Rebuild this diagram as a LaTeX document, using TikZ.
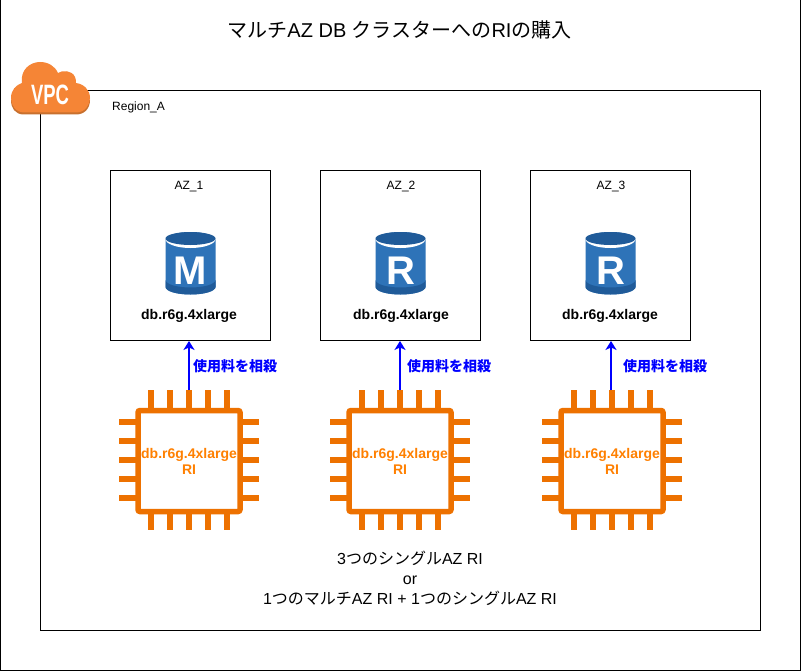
\documentclass[tikz,border=0pt]{standalone}
\usepackage{fontspec}
\setmainfont{Liberation Sans}
\newfontfamily\jp{Noto Sans CJK JP}
\usetikzlibrary{arrows.meta}
\definecolor{chiporange}{HTML}{ED7100}
\definecolor{ritext}{HTML}{FF8000}
\definecolor{cloudorange}{HTML}{F58536}
\definecolor{clouddark}{HTML}{C8702E}
\definecolor{dbblue}{HTML}{2E73B8}
\definecolor{dbdark}{HTML}{205B99}
\newcommand{\J}[1]{{\jp #1}}
\tikzset{
  frame/.style={draw=black,line width=1pt,fill=none},
  azbox/.style={draw=black,line width=0.9pt,minimum width=160pt,minimum height=170pt,inner sep=0pt},
  plain/.style={inner sep=0pt,font=\fontsize{12}{14}\selectfont,text=black},
  dblabel/.style={inner sep=0pt,font=\fontsize{14}{16}\selectfont\bfseries,text=black},
  uselabel/.style={inner sep=0pt,anchor=west,text=blue,font=\fontsize{14}{16}\selectfont\bfseries},
  chipbody/.style={draw=chiporange,line width=5.5pt,rounded corners=2pt,minimum width=102pt,minimum height=101pt,inner sep=0pt,align=center,text=ritext,font=\fontsize{14}{16}\selectfont\bfseries},
  pin/.style={draw=chiporange,line width=6pt},
  offset/.style={draw=blue,line width=2pt,-{Stealth[length=9pt,width=11pt,inset=2.5pt]}},
  chip/.pic={
    \foreach \d in {-38,-19,0,19,38}{
      \draw[pin] (\d,-70) -- (\d,-52);
      \draw[pin] (\d,52) -- (\d,70);
      \draw[pin] (-70,\d) -- (-53,\d);
      \draw[pin] (53,\d) -- (70,\d);
    }
  },
  dbicon/.pic={
    \fill[dbblue] (-25,8) -- (-25,55) arc[start angle=180,end angle=0,x radius=25,y radius=7.5] -- (25,8) arc[start angle=0,end angle=-180,x radius=25,y radius=8] -- cycle;
    \fill[dbdark] (-25,48) -- (-25,55) arc[start angle=180,end angle=0,x radius=25,y radius=7.5] -- (25,48) arc[start angle=0,end angle=180,x radius=25,y radius=7.5] -- cycle;
    \fill[white] (-25,7) arc[start angle=180,end angle=0,x radius=25,y radius=9] -- (25,6.5) -- (-25,6.5) -- cycle;
    \fill[dbdark] (0,6.5) ellipse[x radius=25,y radius=6.5];
  }
}
\begin{document}
\begin{tikzpicture}[x=1pt,y=-1pt]
\useasboundingbox (0,0) rectangle (802,671);
\fill[white] (0,0) rectangle (802,671);
\draw[frame] (0.5,-1) rectangle (800.5,670.5);
\node[inner sep=0pt,font=\fontsize{20}{23}\selectfont] (title) at (399.5,30) {\J{マルチ}AZ DB \J{クラスターへの}RI\J{の購入}};
\node[draw=black,line width=1pt,minimum width=720pt,minimum height=540pt,inner sep=0pt] (region) at (400.5,360.5) {};
% VPC cloud
\fill[clouddark] (24,114.5) .. controls (15,114.5) and (11,108) .. (11,100) -- (90,100) .. controls (90,108) and (85,114.5) .. (76,114.5) -- cycle;
\fill[cloudorange] (25,112.5) .. controls (15,112.5) and (11,105) .. (11,98) .. controls (11,90) and (16,85) .. (22,83) .. controls (20,70) and (30,62) .. (40,62) .. controls (48,62) and (55,66) .. (58,73) .. controls (62,70) and (72,70) .. (75,77) .. controls (76,79) and (76,81) .. (76,83) .. controls (84,84) and (90,90) .. (90,98) .. controls (90,105) and (85,112.5) .. (76,112.5) -- cycle;
\node[inner sep=0pt,text=white,xscale=0.66,font=\fontsize{28}{28}\selectfont\bfseries] (vpc) at (50,95) {VPC};
\node[plain,anchor=west] (regionlabel) at (112,107) {Region\_A};
% AZ boxes
\node[azbox] (az1) at (190.5,255.5) {};
\node[azbox] (az2) at (400.5,255.5) {};
\node[azbox] (az3) at (610.5,255.5) {};
\node[plain] (az1t) at (189,187) {AZ\_1};
\node[plain] (az2t) at (401,187) {AZ\_2};
\node[plain] (az3t) at (611,187) {AZ\_3};
% DB icons
\pic at (190.5,232) {dbicon};
\pic at (400.5,232) {dbicon};
\pic at (610.5,232) {dbicon};
\node[inner sep=0pt,text=white,font=\fontsize{40}{40}\selectfont\bfseries] (m1) at (190.5,271) {M};
\node[inner sep=0pt,text=white,font=\fontsize{40}{40}\selectfont\bfseries] (r2) at (401,271) {R};
\node[inner sep=0pt,text=white,font=\fontsize{40}{40}\selectfont\bfseries] (r3) at (611,271) {R};
\node[dblabel] (db1) at (189,316) {db.r6g.4xlarge};
\node[dblabel] (db2) at (401,316) {db.r6g.4xlarge};
\node[dblabel] (db3) at (610,316) {db.r6g.4xlarge};
% chips
\pic at (189,460) {chip};
\pic at (400,460) {chip};
\pic at (612,460) {chip};
\node[chipbody] (c1) at (189,461) {db.r6g.4xlarge\\RI};
\node[chipbody] (c2) at (400,461) {db.r6g.4xlarge\\RI};
\node[chipbody] (c3) at (612,461) {db.r6g.4xlarge\\RI};
\coordinate (p1) at (189,390);
\coordinate (p2) at (400,390);
\coordinate (p3) at (611,390);
\draw[offset] (p1) -- (p1 |- az1.south);
\draw[offset] (p2) -- (p2 |- az2.south);
\draw[offset] (p3) -- (p3 |- az3.south);
\node[uselabel] (u1) at (193,366) {\J{使用料を相殺}};
\node[uselabel] (u2) at (407,366) {\J{使用料を相殺}};
\node[uselabel] (u3) at (623,366) {\J{使用料を相殺}};
\node[inner sep=0pt,align=center,font=\fontsize{16}{20}\selectfont] (note) at (410,578) {3\J{つのシングル}AZ RI\\or\\1\J{つのマルチ}AZ RI + 1\J{つのシングル}AZ RI};
\end{tikzpicture}
\end{document}
